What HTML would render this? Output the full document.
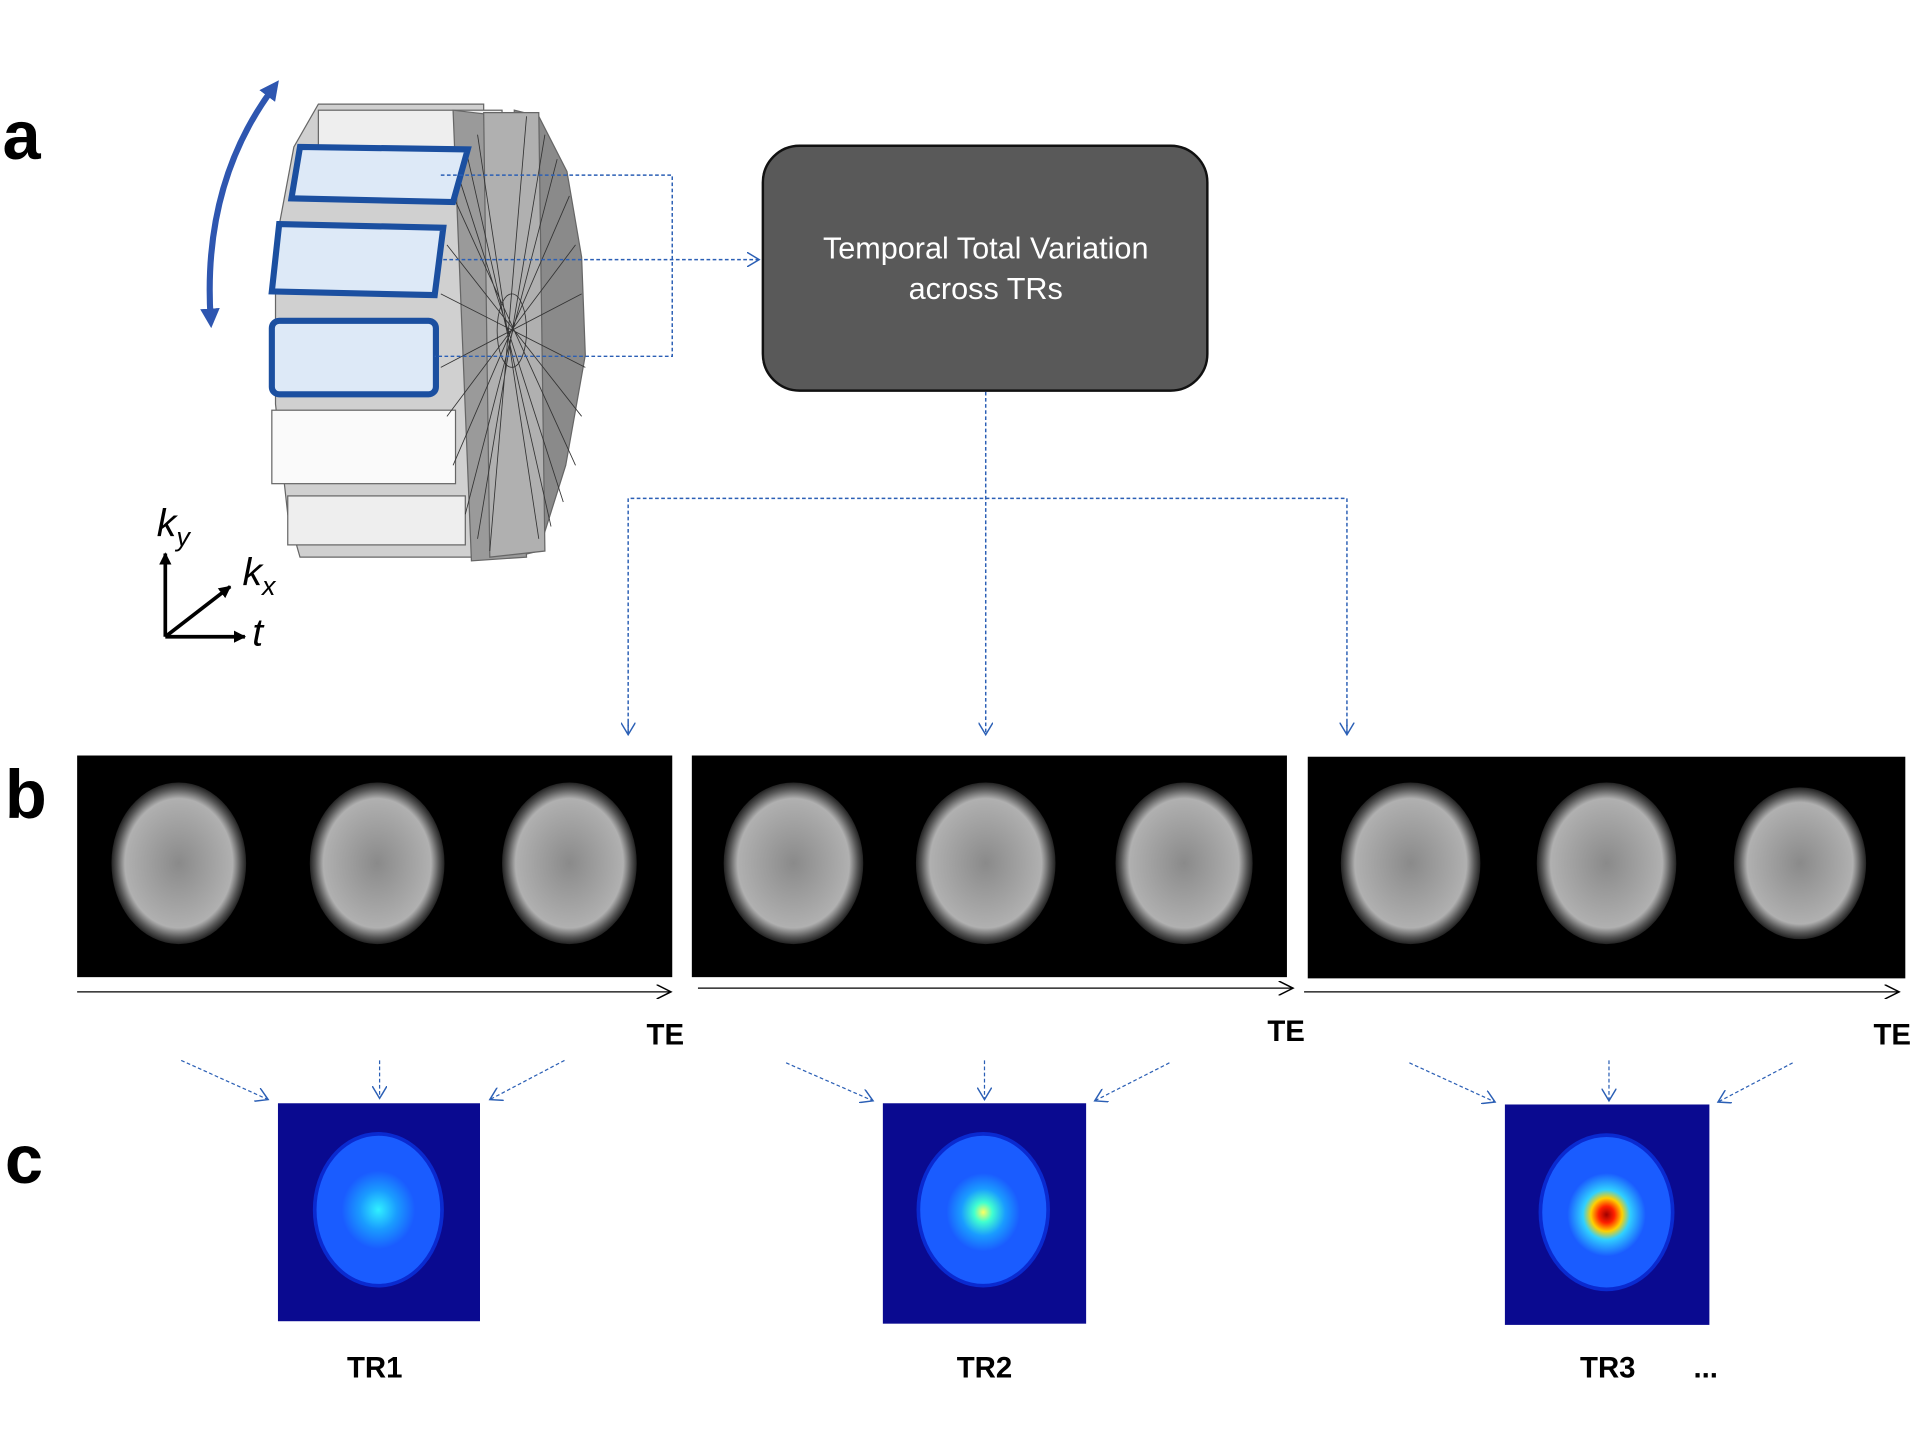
<!DOCTYPE html>
<html><head><meta charset="utf-8"><style>html,body{margin:0;padding:0;background:#fff}svg{display:block}</style></head>
<body>
<svg width="1920" height="1440" viewBox="0 0 1568 1176" preserveAspectRatio="none" xmlns="http://www.w3.org/2000/svg" font-family="Liberation Sans, sans-serif">
<defs>
<marker id="ab" markerWidth="12" markerHeight="12" refX="10" refY="6" orient="auto" markerUnits="userSpaceOnUse"><path d="M0,0 L10,6 L0,12" fill="none" stroke="#2b5fb5" stroke-width="1.2"/></marker>
<marker id="ak" markerWidth="14" markerHeight="12" refX="12" refY="6" orient="auto" markerUnits="userSpaceOnUse"><path d="M0,0 L12,6 L0,12" fill="none" stroke="#000" stroke-width="1.2"/></marker>
<marker id="ak2" markerWidth="12" markerHeight="12" refX="9" refY="6" orient="auto" markerUnits="userSpaceOnUse"><path d="M0,1 L10,6 L0,11 z" fill="#000"/></marker>
<marker id="bl" markerWidth="16" markerHeight="16" refX="8" refY="8" orient="auto-start-reverse" markerUnits="userSpaceOnUse"><path d="M0,0 L16,8 L0,16 z" fill="#2e56b0"/></marker>
<radialGradient id="h1"><stop offset="0" stop-color="#30f0ff"/><stop offset="0.5" stop-color="#1a9cff"/><stop offset="1" stop-color="#1a5cff"/></radialGradient>
<radialGradient id="h2"><stop offset="0" stop-color="#ffff60"/><stop offset="0.25" stop-color="#40ffd0"/><stop offset="0.6" stop-color="#1a9cff"/><stop offset="1" stop-color="#1a5cff"/></radialGradient>
<radialGradient id="h3"><stop offset="0" stop-color="#a00000"/><stop offset="0.2" stop-color="#ff2000"/><stop offset="0.4" stop-color="#ffd000"/><stop offset="0.6" stop-color="#30d0ff"/><stop offset="1" stop-color="#1a5cff"/></radialGradient>
<radialGradient id="br"><stop offset="0" stop-color="#8a8a8a"/><stop offset="0.8" stop-color="#b0b0b0"/><stop offset="0.92" stop-color="#555"/><stop offset="1" stop-color="#222"/></radialGradient>
</defs>
<rect width="1568" height="1176" fill="#fff"/>
<text x="2" y="130" font-size="56" font-weight="bold">a</text>
<text x="4" y="668" font-size="56" font-weight="bold">b</text>
<text x="4" y="966" font-size="56" font-weight="bold">c</text>

<g stroke="#666" stroke-width="1">
<polygon points="440,95 463,140 475,210 478,290 462,380 440,450 420,455 420,90" fill="#8a8a8a"/>
<polygon points="260,85 395,85 395,455 245,455 235,420 225,330 225,200 240,120" fill="#d0d0d0"/>
<rect x="260" y="90" width="150" height="30" fill="#eee"/>
<rect x="222" y="335" width="150" height="60" fill="#fafafa"/>
<rect x="235" y="405" width="145" height="40" fill="#eee"/>
<polygon points="370,90 412,95 430,455 385,458" fill="#9a9a9a"/>
<polygon points="395,92 440,92 445,450 400,455" fill="#b0b0b0"/>
</g>
<g stroke="#333" stroke-width="0.7" fill="none">
<ellipse cx="418" cy="270" rx="12" ry="30"/>
<path d="M370,130 L460,410 M380,120 L450,430 M390,110 L440,440 M370,160 L470,380 M365,200 L475,340 M360,240 L478,300 M360,300 L475,240 M365,340 L470,200 M370,380 L465,160 M380,420 L455,130 M390,440 L445,110 M400,450 L430,95"/>
</g>
<g stroke="#1b4fa0" stroke-width="5" fill="#dde9f7">
<polygon points="245,120 382,122 370,165 238,162"/>
<polygon points="228,183 362,186 355,241 222,238"/>
<rect x="222" y="262" width="134" height="60" rx="6"/>
</g>
<path d="M223,72 Q165,150 172,260" fill="none" stroke="#2e56b0" stroke-width="5" marker-start="url(#bl)" marker-end="url(#bl)"/>
<g stroke="#000" stroke-width="3" fill="none">
<line x1="135" y1="520" x2="135" y2="452" marker-end="url(#ak2)"/>
<line x1="135" y1="520" x2="200" y2="520" marker-end="url(#ak2)"/>
<line x1="135" y1="520" x2="188" y2="479" marker-end="url(#ak2)"/>
</g>
<text x="128" y="438" font-size="32" font-style="italic">k<tspan font-size="22" dy="8">y</tspan></text>
<text x="198" y="478" font-size="32" font-style="italic">k<tspan font-size="22" dy="8">x</tspan></text>
<text x="206" y="527" font-size="32" font-style="italic">t</text>

<g stroke="#2b5fb5" stroke-width="1.2" stroke-dasharray="3,2" fill="none">
<polyline points="360,143 549,143 549,291 355,291"/>
<line x1="362" y1="212" x2="620" y2="212" marker-end="url(#ab)"/>
<line x1="805" y1="320" x2="805" y2="600" marker-end="url(#ab)"/>
<polyline points="513,600 513,407 1100,407 1100,600"/>
<line x1="513" y1="590" x2="513" y2="600" marker-end="url(#ab)"/>
<line x1="1100" y1="590" x2="1100" y2="600" marker-end="url(#ab)"/>
</g>
<rect x="623" y="119" width="363" height="200" rx="30" fill="#595959" stroke="#111" stroke-width="2"/>
<text x="805" y="211" font-size="25" fill="#fff" text-anchor="middle">Temporal Total Variation</text>
<text x="805" y="244" font-size="25" fill="#fff" text-anchor="middle">across TRs</text>

<g>
<rect x="63" y="617" width="486" height="181" fill="#000"/>
<rect x="565" y="617" width="486" height="181" fill="#000"/>
<rect x="1068" y="618" width="488" height="181" fill="#000"/>
<g fill="url(#br)">
<ellipse cx="146" cy="705" rx="55" ry="66"/><ellipse cx="308" cy="705" rx="55" ry="66"/><ellipse cx="465" cy="705" rx="55" ry="66"/>
<ellipse cx="648" cy="705" rx="57" ry="66"/><ellipse cx="805" cy="705" rx="57" ry="66"/><ellipse cx="967" cy="705" rx="56" ry="66"/>
<ellipse cx="1152" cy="705" rx="57" ry="66"/><ellipse cx="1312" cy="705" rx="57" ry="66"/><ellipse cx="1470" cy="705" rx="54" ry="62"/>
</g>
</g>
<g stroke="#000" stroke-width="1" fill="none">
<line x1="63" y1="810" x2="548" y2="810" marker-end="url(#ak)"/>
<line x1="570" y1="807" x2="1056" y2="807" marker-end="url(#ak)"/>
<line x1="1065" y1="810" x2="1551" y2="810" marker-end="url(#ak)"/>
</g>
<g font-size="24" font-weight="bold">
<text x="528" y="853">TE</text><text x="1035" y="850">TE</text><text x="1530" y="853">TE</text>
</g>

<g stroke="#2b5fb5" stroke-width="1" stroke-dasharray="3,2" fill="none">
<line x1="148" y1="866" x2="219" y2="898" marker-end="url(#ab)"/>
<line x1="310" y1="866" x2="310" y2="897" marker-end="url(#ab)"/>
<line x1="461" y1="866" x2="400" y2="898" marker-end="url(#ab)"/>
<line x1="642" y1="868" x2="713" y2="899" marker-end="url(#ab)"/>
<line x1="804" y1="866" x2="804" y2="898" marker-end="url(#ab)"/>
<line x1="955" y1="868" x2="894" y2="899" marker-end="url(#ab)"/>
<line x1="1151" y1="868" x2="1221" y2="900" marker-end="url(#ab)"/>
<line x1="1314" y1="866" x2="1314" y2="899" marker-end="url(#ab)"/>
<line x1="1464" y1="868" x2="1403" y2="900" marker-end="url(#ab)"/>
</g>
<rect x="227" y="901" width="165" height="178" fill="#0a0a90"/>
<ellipse cx="309" cy="988" rx="52" ry="62" fill="#1a5cff" stroke="#0a2ad0" stroke-width="3"/>
<ellipse cx="309" cy="988" rx="30" ry="32" fill="url(#h1)"/>
<rect x="721" y="901" width="166" height="180" fill="#0a0a90"/>
<ellipse cx="803" cy="988" rx="53" ry="62" fill="#1a5cff" stroke="#0a2ad0" stroke-width="3"/>
<ellipse cx="803" cy="990" rx="30" ry="32" fill="url(#h2)"/>
<rect x="1229" y="902" width="167" height="180" fill="#0a0a90"/>
<ellipse cx="1312" cy="990" rx="54" ry="63" fill="#1a5cff" stroke="#0a2ad0" stroke-width="3"/>
<ellipse cx="1312" cy="992" rx="32" ry="34" fill="url(#h3)"/>
<g font-size="24" font-weight="bold" text-anchor="middle">
<text x="306" y="1125">TR1</text><text x="804" y="1125">TR2</text><text x="1313" y="1125">TR3</text><text x="1393" y="1125">...</text>
</g>
</svg>
</body></html>
